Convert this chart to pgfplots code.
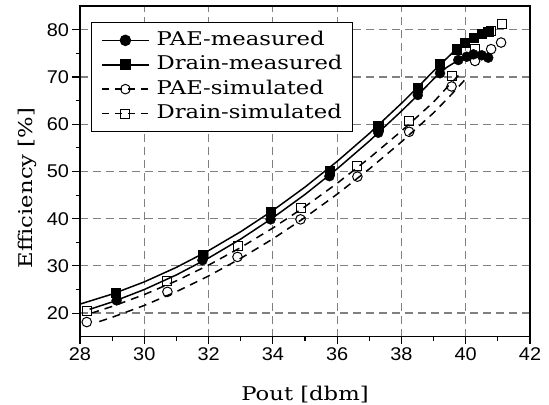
\documentclass[border=0pt]{standalone}
\usepackage{fontspec}
\setmainfont{DejaVu Serif}
\newfontfamily\labfont[FakeStretch=1.2]{DejaVu Serif}
\newfontfamily\tickfont[FakeStretch=1.08]{Liberation Sans}
\usepackage{pgfplots}
\pgfplotsset{compat=1.18}
\begin{document}
\begin{tikzpicture}
\begin{axis}[
  scale only axis, width=450bp, height=330.5bp,
  xmin=28, xmax=42, ymin=15, ymax=85,
  xtick={28,30,...,42}, ytick={20,30,...,80},
  minor x tick num=1, minor y tick num=1,
  tick pos=left, tick align=outside,
  major tick length=7.5bp, minor tick length=4bp,
  every tick/.style={black, line width=1.1bp},
  axis line style={line width=1.5bp},
  grid=major,
  major grid style={gray, dash pattern=on 8bp off 5bp, line width=1.2bp},
  /pgf/number format/assume math mode=true,
  ticklabel style={font=\tickfont\fontsize{18.5}{18.5}\selectfont},
  xlabel={Pout [dbm]}, ylabel={Efficiency [\%]},
  label style={font=\labfont\fontsize{19}{19}\selectfont},
  xlabel style={at={(axis description cs:0.5,-0.193)}, anchor=base},
  ylabel style={at={(axis description cs:-0.106,0.45)}, anchor=base},
  legend style={at={(0.0238,0.9525)}, anchor=north west, draw=black, line width=0.9bp,
    font=\labfont\fontsize{19}{19}\selectfont,
    nodes={inner sep=0pt, text height=14bp, text depth=4bp},
    row sep=6.4bp, inner xsep=10bp, inner ysep=9bp, cells={anchor=west},
    /tikz/every odd column/.append style={column sep=7bp}},
  legend image code/.code={%
    \draw[mark repeat=2,mark phase=2] plot coordinates {(0bp,0bp) (23.5bp,0bp) (47bp,0bp)};},
]
% legend entries
\addlegendimage{black, line width=1.5bp, mark=*, mark size=5bp, mark options={solid, fill=black}}
\addlegendentry{PAE-measured}
\addlegendimage{black, line width=1.5bp, mark=square*, mark size=4.6bp, mark options={solid, fill=black}}
\addlegendentry{Drain-measured}
\addlegendimage{black, line width=1.5bp, dash pattern=on 7bp off 6bp, mark=o, mark size=4.8bp, mark options={solid, fill=white, line width=1bp}}
\addlegendentry{PAE-simulated}
\addlegendimage{black, line width=1.5bp, dash pattern=on 7bp off 6bp, mark=square, mark size=4.5bp, mark options={solid, fill=white, line width=1bp}}
\addlegendentry{Drain-simulated}

% fitted curves
\addplot[black, line width=1.5bp, forget plot] coordinates {
 (28,21.90) (29,24.02) (30,26.61) (31,29.69) (32,33.23) (33,37.24) (34,41.73)
 (35,46.69) (36,52.13) (37,58.04) (38,64.42) (38.5,67.79) (39,71.28) (39.4,73.9)
 (39.8,76.5) (40.2,78.2) (40.5,79.2) (40.75,79.8)};
\addplot[black, line width=1.5bp, forget plot] coordinates {
 (28.3,20.8) (29,22.35) (30,24.99) (31,28.09) (32,31.66) (33,35.68) (34,40.18)
 (35,45.13) (36,50.55) (37,56.43) (38,62.78) (38.5,66.1) (39,69.59) (39.4,72.0)
 (39.8,73.7) (40.1,74.5) (40.4,74.8) (40.7,74.6)};
\addplot[black, line width=1.5bp, dash pattern=on 8bp off 6bp, forget plot] coordinates {
 (28.35,19.98) (29,21.41) (30,23.92) (31,26.84) (32,30.16) (33,33.89) (34,38.02)
 (35,42.55) (36,47.49) (37,52.82) (38,58.56) (39,64.71) (39.5,68.4) (39.9,71.2)};
\addplot[black, line width=1.5bp, dash pattern=on 8bp off 6bp, forget plot] coordinates {
 (28.6,18.2) (29,19.11) (30,21.62) (31,24.54) (32,27.86) (33,31.59) (34,35.72)
 (35,40.25) (36,45.19) (37,50.52) (38,56.26) (39,62.41) (39.5,65.9) (40.0,69.6)};

% measured markers
\addplot[only marks, mark=*, mark size=5bp, mark options={fill=black, draw=black}, forget plot] coordinates {
 (29.14,22.7) (31.81,31.2) (33.93,39.85) (35.76,49.0) (37.28,58.2) (38.51,66.2)
 (39.2,70.8) (39.77,73.6) (40.03,74.3) (40.24,74.8) (40.5,74.6) (40.7,74.1)};
\addplot[only marks, mark=square*, mark size=4.6bp, mark options={fill=black, draw=black}, forget plot] coordinates {
 (29.12,24.3) (31.81,32.4) (33.93,41.4) (35.76,50.2) (37.28,59.6) (38.51,67.7)
 (39.2,72.7) (39.72,75.9) (39.98,77.3) (40.24,78.3) (40.5,79.2) (40.7,79.6)};
% simulated markers
\addplot[only marks, mark=o, mark size=4.8bp, mark options={fill=white, draw=black, line width=1bp}, forget plot] coordinates {
 (28.21,18.1) (30.72,24.5) (32.9,31.9) (34.86,39.85) (36.63,48.9) (38.24,58.4)
 (39.56,68.0) (40.29,73.4) (40.79,75.9) (41.1,77.3)};
\addplot[only marks, mark=square, mark size=4.5bp, mark options={fill=white, draw=black, line width=1bp}, forget plot] coordinates {
 (28.21,20.4) (30.72,26.9) (32.9,34.2) (34.86,42.2) (36.63,51.1) (38.24,60.7)
 (39.56,70.2) (40.29,75.9) (40.79,79.7) (41.12,81.3)};
\end{axis}
\pgfresetboundingbox
\path (current axis.south west) ++(-80bp,-68.3bp) rectangle ++(549bp,405bp);
\end{tikzpicture}
\end{document}
